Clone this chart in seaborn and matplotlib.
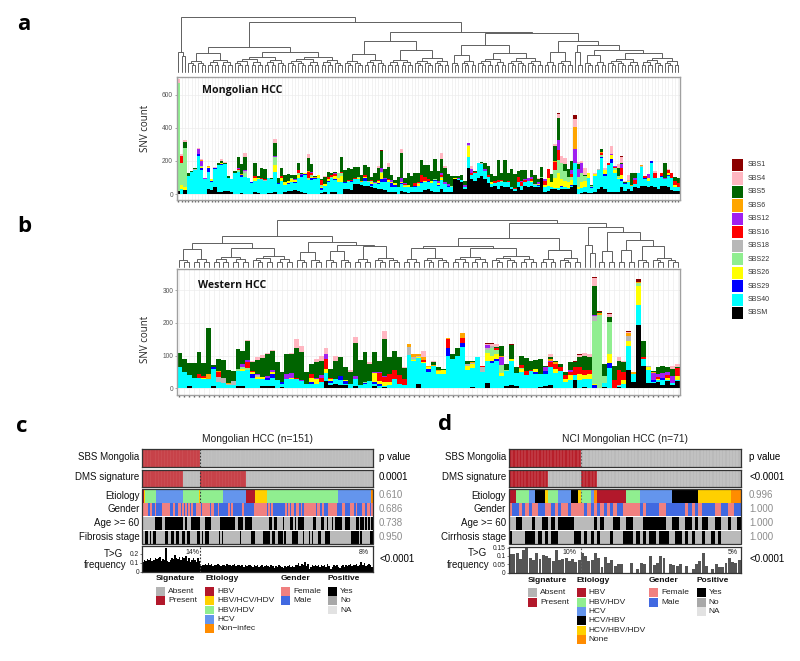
import numpy as np
import pandas as pd
import seaborn as sns
import matplotlib
matplotlib.use('Agg')
import matplotlib.pyplot as plt
from matplotlib.colors import ListedColormap
from matplotlib.patches import Rectangle

# ---------- signatures ----------
signatures = ['SBS1', 'SBS4', 'SBS5', 'SBS6', 'SBS12', 'SBS16', 'SBS18', 'SBS22', 'SBS26', 'SBS29', 'SBS40', 'SBSM']
sig_colors = ['#8b0000', '#ffb6c1', '#006400', '#ffa500', '#a020f0', '#ff0000', '#b8b8b8', '#90ee90', '#ffff00', '#0000ff', '#00ffff', '#000000']

# ---------- panel a, Mongolian HCC, 151 samples ----------
a_sbsm = [20,0,25,0,0,0,0,0,0,30,25,40,15,15,20,20,10,0,0,5,0,0,0,10,5,0,0,5,5,15,0,0,15,20,20,25,20,10,5,0,0,0,0,5,10,0,15,15,0,0,
          30,30,25,60,60,55,50,50,40,35,30,30,25,10,15,15,0,20,10,5,
          10,10,15,15,25,30,20,15,10,30,15,15,15,90,85,75,30,160,90,80,100,110,90,65,40,50,30,50,40,40,30,20,40,25,50,40,50,40,40,100,
          10,20,30,30,25,30,30,30,40,55,0,5,10,5,5,15,30,45,30,15,15,10,10,40,20,30,20,40,35,50,50,40,50,40,30,50,50,40,25,20,20]
a_sbs40 = [0,30,0,110,135,145,230,145,90,105,50,110,160,160,160,75,80,125,135,100,105,100,65,70,85,90,80,95,85,120,60,80,40,40,50,40,80,95,110,85,85,92,100,20,40,70,80,67,70,70,
           35,40,50,30,30,15,30,25,10,25,30,40,50,60,30,25,40,40,30,40,
           30,35,35,50,50,40,45,65,40,55,45,30,30,0,5,10,10,65,25,45,85,70,50,40,20,15,40,20,30,30,10,10,30,25,20,40,20,15,10,0,
           35,30,10,5,10,15,10,5,10,130,30,30,30,90,30,95,115,175,80,160,175,115,80,40,40,45,30,20,90,115,40,40,140,60,65,55,40,70,75,25,20]
a_sbs5 = [0,0,35,15,5,5,0,0,0,0,0,0,10,15,10,10,0,15,70,60,80,0,5,80,10,62,57,0,10,77,35,48,45,40,15,25,40,5,0,80,47,5,0,5,42,30,15,10,5,90,
          70,72,62,70,60,35,60,85,20,60,72,100,55,75,30,20,60,155,35,70,
          65,60,55,92,70,82,60,120,60,85,80,60,60,15,15,30,25,0,0,5,5,5,40,55,45,30,120,45,135,50,105,85,35,65,55,0,40,55,20,60,
          0,0,45,90,135,0,40,45,55,0,30,5,5,0,5,0,0,15,0,0,0,0,50,5,10,0,75,35,0,0,0,0,0,0,0,0,95,0,5,25,35]
a_sbs29 = {6:10,7:10,9:25,10:5,11:5,13:5,19:10,22:5,30:5,33:5,34:5,35:5,37:10,38:5,40:10,41:8,43:10,45:10,46:5,47:10,49:5,50:5,52:5,55:5,56:15,58:10,60:5,61:20,62:15,63:5,64:20,65:15,67:5,68:5,71:5,73:8,75:8,77:5,78:5,81:5,96:5,100:5,106:5,108:5,115:5,118:5,124:5,127:5,128:10,130:20,133:10,134:5,140:10,142:10,145:5,147:5}
a_sbs26 = {1:25,2:20,7:10,9:5,10:10,13:5,23:15,24:10,29:40,31:15,32:15,33:15,34:15,35:15,36:15,38:10,40:10,42:15,43:10,44:10,45:10,47:15,48:30,49:35,51:5,54:10,56:10,58:15,60:15,61:35,63:10,64:5,65:10,67:10,68:5,69:10,72:10,74:5,76:15,78:10,79:10,83:5,87:65,94:10,97:5,106:5,108:5,110:10,111:50,112:30,113:60,114:95,115:40,116:40,117:40,118:30,120:15,121:40,122:40,123:30,125:10,128:25,130:25,131:20,132:10,133:25,135:5,141:15,147:10,149:10}
a_sbs22 = {0:650,1:135,2:235,7:5,18:10,20:25,29:50,31:5,34:10,36:10,39:15,40:10,43:10,46:5,48:25,49:15,51:5,54:5,58:5,59:5,61:10,68:5,72:5,77:5,79:10,82:5,97:5,109:5,112:5,113:50,114:75,115:100,116:60,117:30,118:20,120:60,121:50,122:30,124:10,127:10,131:10,132:10}
a_sbs18 = {5:5,15:5,20:10,26:5,36:5,47:5,57:5,66:5,87:5,91:5,107:5,126:5,135:5,139:5}
a_sbs16 = {1:40,11:5,18:5,23:15,25:8,26:8,31:12,36:15,39:35,40:10,43:30,45:15,46:10,47:8,49:10,51:8,52:8,53:5,56:10,58:5,60:8,63:5,68:5,70:5,71:15,72:10,73:40,74:25,75:15,79:10,88:10,89:8,91:5,93:10,95:15,96:10,97:5,99:10,101:5,102:35,103:25,104:15,106:10,110:25,111:50,113:50,114:60,118:15,127:15,129:15,131:10,133:40,137:25,140:10,143:30,145:20,147:20,148:25,149:25,150:25}
a_sbs12 = {6:30,7:30,8:10,18:5,20:5,29:8,35:5,37:5,40:8,47:5,50:5,59:5,61:25,62:5,64:15,67:20,68:5,78:15,79:10,80:15,81:10,84:5,86:15,87:15,88:25,92:10,94:5,103:5,104:5,105:20,106:15,108:10,110:10,114:60,118:25,119:90,120:45,121:60,123:5,130:5,131:5,133:25,137:10,141:25,146:5}
a_sbs6 = {7:5,9:5,19:5,39:5,41:5,55:5,113:5,119:130,127:5,136:5,139:5,144:5}
a_sbs4 = {0:25,1:10,2:10,6:10,7:5,11:5,13:15,14:5,20:25,29:25,36:5,39:25,44:8,60:10,63:20,67:20,79:40,80:15,88:20,108:10,113:10,114:25,115:40,116:40,119:50,120:15,121:10,122:40,125:10,128:15,130:50,132:20,133:40,134:5,135:30,143:10,147:5}
a_sbs1 = {2:5,61:5,114:5,119:25,133:5}

# ---------- panel b, Western HCC, 103 samples ----------
b_sbsm = [0,0,8,0,0,0,0,8,0,0,0,0,8,8,0,0,0,8,8,8,0,3,0,0,0,2,2,0,0,0,22,10,15,12,10,0,8,0,0,0,8,0,3,0,0,0,0,
          0,0,13,0,0,0,0,0,0,0,0,0,0,3,0,0,18,0,0,0,8,10,8,0,0,2,0,5,8,12,0,0,0,0,25,0,5,0,0,0,3,0,0,3,0,55,20,195,70,18,18,20,12,22,12,22]
b_sbs40 = [65,50,34,33,32,28,30,51,20,18,10,12,45,46,55,32,30,22,17,25,25,12,30,30,30,22,13,15,15,20,25,8,15,15,5,15,20,12,15,22,7,8,3,10,30,15,10,
           102,84,79,79,50,69,44,43,100,90,100,128,55,58,95,50,66,78,83,37,44,75,39,50,40,50,45,40,36,55,48,52,20,25,15,25,25,30,0,0,15,64,0,5,15,74,25,59,20,37,3,5,15,5,5,3]
b_sbs5 = [43,40,36,45,66,40,140,5,37,55,37,30,62,40,59,28,42,58,66,60,57,29,60,57,92,83,35,31,49,41,0,27,55,58,39,35,102,76,89,53,63,36,111,50,60,55,32,
          0,0,0,0,0,10,8,5,0,15,25,0,10,3,0,0,0,0,3,30,20,42,18,27,40,28,30,45,3,5,5,8,10,25,17,32,45,40,87,3,37,15,45,28,30,0,0,0,50,0,3,22,24,15,23,5]
b_sbs29 = {7:8,15:12,18:8,19:12,21:6,27:5,31:5,33:10,34:8,38:3,40:6,41:6,51:10,55:25,58:12,64:6,65:6,73:5,75:8,85:12,88:15,97:5,99:4}
b_sbs26 = {5:5,13:5,15:5,16:5,17:5,19:5,23:3,27:12,28:15,30:13,31:5,34:3,40:25,41:10,42:15,43:10,48:3,49:5,50:3,51:5,53:10,54:12,59:15,60:15,63:25,64:15,65:15,66:10,68:5,70:8,73:8,77:12,79:8,80:15,82:20,83:10,84:15,85:3,88:25,91:10,92:15,94:60,96:10,98:5,100:5,102:12}
b_sbs22 = {12:5,13:8,14:8,38:3,48:3,63:10,64:25,65:15,66:25,67:3,70:3,85:190,86:225,87:20,88:100,94:8}
b_sbs18 = {8:15,9:15,10:5,11:10,16:5,47:25,48:5,49:3,59:5,60:3,62:15,63:5,64:5,85:15,90:2,92:15,96:5}
b_sbs16 = {4:12,5:5,8:15,14:18,15:5,24:3,27:12,29:12,30:30,31:5,41:22,42:15,43:25,44:25,45:25,46:20,50:5,58:15,55:25,62:5,65:5,70:10,71:12,72:5,76:15,77:15,78:15,79:12,80:10,81:25,82:20,83:15,84:10,89:25,90:45,91:25,95:5,98:5,100:8,102:25}
b_sbs12 = {13:8,14:5,16:5,18:5,19:5,22:15,23:15,25:3,28:3,29:10,30:15,36:10,40:3,41:3,42:3,63:10,66:25,75:15,76:3,80:5,85:5,97:20,98:8,99:15,100:10,101:20}
b_sbs6 = {6:15,8:3,10:3,47:8,48:10,49:5,50:8,51:5,52:3,53:3,55:5,58:15,60:3,66:3,76:5,77:5,86:5,92:10,93:5,94:3,97:5}
b_sbs4 = {14:3,15:3,16:8,17:10,18:3,19:3,23:3,24:25,25:20,28:8,29:15,30:20,32:15,35:5,36:18,39:5,42:25,46:3,50:20,52:3,63:3,64:8,65:8,76:10,82:5,83:8,84:10,85:25,88:8,90:12,91:5,92:3,101:10,102:8}
b_sbs1 = {63:3,64:3,68:3,81:3,82:3,85:3,86:3,88:3,92:3,94:10}

# ---------- clustering trees, (height, left, right), an int is a group of that many leaves ----------
a_tree = (1.0, (.36, 1, (.28, 1, 1)),
          (.90, (.45, (.345, 6, 8), (.35, 16, 17)),
           (.727, (.564, (.33, 6, 7), (.39, 8, 11)),
            (.70, (.485, (.30, 3, 5), (.345, 9, 11)),
             (.56, (.36, 4, 5), (.485, (.36, 1, 2), (.39, (.30, 3, 4), (.345, 10, 12))))))))
b_tree = (1.0, (.66, (.51, (.38, 3, 4), (.40, 8, 9)),
                (.54, (.33, 3, 3), (.47, (.35, 3, 3), (.44, 4, 6)))),
          (.94, (.63, (.44, (.40, 4, 6), (.40, 8, 10)), (.37, 4, 5)),
           (.86, (.47, 1, (.30, 1, 1)),
            (.75, (.35, 2, 2), (.58, (.37, 2, 2), (.45, 3, 6))))))

# ---------- panels c and d, annotation tracks ----------
etio_c_labels = ['HBV', 'HBV/HCV/HDV', 'HBV/HDV', 'HCV', 'Non\u2212infec']
etio_c_colors = ['#b2182b', '#ffd000', '#90ee90', '#6495ed', '#ff8c00']
etio_d_labels = ['HBV', 'HBV/HDV', 'HCV', 'HCV/HBV', 'HCV/HBV/HDV', 'None']
etio_d_colors = ['#b2182b', '#90ee90', '#6495ed', '#000000', '#ffd000', '#ff8c00']

c_sbs_runs = [38, 113]
c_dms_runs = [27, 11, 30, 83]
c_etio_codes = [0, 1, 2, 3, 2, 1, 2, 3, 0, 1, 2, 3, 4]
c_etio_counts = [1, 1, 7, 18, 10, 1, 15, 15, 6, 8, 46, 22, 1]
c_gender_runs = [4,1,1,2,1,4,5,2,1,2,2,1,1,1,1,1,1,1,1,2,3,1,5,1,2,2,1,6,1,1,1,6,1,7,8,1,1,1,1,8,1,1,1,1,2,1,2,1,1,1,8,1,2,1,1,3,6,3,2,3,3,1,1,3,2,1,2,1,1]
c_age_runs = [8,5,2,12,1,1,3,6,3,4,6,10,2,3,1,5,11,2,1,2,4,1,4,2,1,1,1,4,6,2,3,2,2,1,2,1,1,5,2,3,4,2,1,2,1,1,1,1,1,1]
c_fibrosis_runs = [2,2,1,1,1,2,6,2,2,2,1,2,2,2,1,2,5,2,1,1,1,3,6,1,1,1,11,1,6,3,5,5,1,2,2,3,1,1,4,4,3,1,3,1,1,1,3,2,3,3,14,5,1,1,5,2]
c_tg = [.11,.13,.12,.14,.13,.15,.12,.13,.16,.14,.15,.17,.12,.14,.13,.27,.12,.11,.13,.15,.14,.19,.16,.14,.17,.13,.17,.15,.18,.12,.15,.11,.13,.16,.13,.11,.15,.12,
        .06,.08,.07,.09,.08,.10,.07,.09,.06,.08,.07,.09,.08,.06,.07,.08,.06,.09,.07,.08,.06,.07,.09,.06,.08,.07,.06,.08,.05,.07,
        .06,.08,.07,.06,.05,.07,.06,.08,.05,.06,.07,.05,.06,.08,.06,.05,.07,.06,.04,.06,.05,.07,.06,.05,.04,.06,.05,.06,.07,.05,
        .06,.05,.08,.07,.10,.06,.09,.07,.11,.06,.09,.03,.05,.07,.06,.08,.06,.07,.05,.08,.06,.07,.05,.09,.06,.03,.05,.07,.06,.08,
        .05,.04,.06,.07,.05,.08,.06,.07,.09,.06,.08,.07,.09,.06,.08,.11,.07,.10,.06,.08,.09,.07,.05]
c_tg_ticks = [0, 0.1, 0.2]
c_tg_labels = ['0', '0.1', '0.2']

d_sbs_runs = [22, 49]
d_dms_runs = [12, 10, 5, 44]
d_etio_codes = [0, 1, 2, 3, 4, 1, 2, 3, 4, 1, 2, 5, 0, 1, 2, 3, 4, 5]
d_etio_counts = [2, 4, 2, 3, 1, 3, 4, 2, 1, 3, 1, 1, 9, 4, 10, 8, 10, 3]
d_gender_runs = [1,2,1,1,1,1,2,2,2,1,1,1,2,1,4,1,1,1,1,1,1,1,1,1,1,2,5,1,1,4,2,6,1,1,1,1,1,4,2,2,2,2]
d_age_runs = [2,2,3,1,2,2,1,1,1,5,6,1,1,1,3,2,2,2,3,7,2,2,2,2,1,1,1,2,2,2,2,1,2,1]
d_cirrhosis_runs = [0,1,4,3,1,1,1,1,1,2,5,2,1,1,1,1,1,1,3,1,3,3,1,1,1,1,1,2,1,3,2,2,1,1,1,1,2,1,2,1,1,1,6]
d_tg = [.11,.11,.115,.08,.135,.145,.09,.075,.115,.08,.105,.1,.09,.07,.135,.075,.08,.09,.07,.08,.065,.075,.115,.1,.07,.075,.12,.085,.035,.095,.055,.075,.04,.05,.05,
        0,0,.06,0,.02,.055,.05,0,.1,.045,.055,.1,.085,0,.05,.045,.04,.05,0,.04,0,.02,.05,.07,.12,.04,0,.02,.05,.035,.035,.06,.085,.065,.055,.075]
d_tg_ticks = [0, 0.05, 0.1, 0.15]
d_tg_labels = ['0', '0.05', '0.1', '0.15']

GREY = '#bababa'
PINK, BLUE = '#f08080', '#4169e1'

sns.set_theme(style='white')
plt.rcParams['font.family'] = ['Liberation Sans', 'DejaVu Sans']
W, H = 800, 661
fig = plt.figure(figsize=(W / 100, H / 100), dpi=100)


def add_ax(left, top, right, bottom):
    return fig.add_axes([left / W, 1 - bottom / H, (right - left) / W, (bottom - top) / H])


def full_column(values, n):
    col = np.zeros(n)
    if isinstance(values, dict):
        for k, v in values.items():
            col[k] = v
    else:
        col[:] = values
    return col


def draw_bars(ax, columns, n, ylim, yticks):
    rows = []
    for name, values in zip(signatures, columns):
        rows.append(pd.DataFrame({'sample': np.arange(n), 'signature': name, 'count': full_column(values, n)}))
    df = pd.concat(rows)
    ax.grid(True, color='#ededed', lw=0.5)
    ax.set_axisbelow(True)
    sns.histplot(df, x='sample', weights='count', hue='signature', hue_order=signatures, palette=sig_colors,
                 multiple='stack', discrete=True, shrink=1, linewidth=0, alpha=1, legend=False, ax=ax)
    ax.set_xlim(-0.5, n - 0.5)
    ax.set_ylim(*ylim)
    ax.set_yticks(yticks)
    ax.set_xticks(np.arange(n))
    ax.set_xlabel('')
    ax.set_ylabel('')
    ax.set_xticklabels([])
    ax.tick_params(axis='x', length=1.2, width=1.0, color='#666666', pad=0, bottom=True)
    ax.tick_params(axis='y', length=1.5, width=0.4, color='#666666', labelsize=4.8, labelcolor='#555555', pad=1, left=True)
    for s in ax.spines.values():
        s.set_color('#a0a0a0')
        s.set_linewidth(1.0)


def draw_tree(ax, node, start=0):
    # returns x position, height and number of leaves of the node
    if isinstance(node, int):
        if node == 1:
            return start, 0.0, 1
        k = max(1, node * 3 // 5)
        node = (0.07 + 0.05 * np.log2(node), k, node - k)
    h, left, right = node
    xl, hl, nl = draw_tree(ax, left, start)
    xr, hr, nr = draw_tree(ax, right, start + nl)
    ax.plot([xl, xl, xr, xr], [hl, h, h, hr], color='#606060', lw=0.7, solid_joinstyle='miter')
    return (xl + xr) / 2, h, nl + nr


def expand(runs, first=1, second=0):
    codes = [first if i % 2 == 0 else second for i in range(len(runs))]
    return np.repeat(codes, runs)


def track(box, codes, colors, stripes=0, frame=True):
    ax = add_ax(*box)
    n_col = len(colors)
    sns.heatmap(np.asarray(codes).reshape(1, -1), cmap=ListedColormap(colors), vmin=-0.5, vmax=n_col - 0.5, cbar=False,
                xticklabels=False, yticklabels=False, ax=ax)
    if stripes:
        # thin pale lines between the samples
        ax.vlines(np.arange(1, len(codes)), 0, 1, color='white', lw=0.35, alpha=stripes)
    if frame:
        for s in ax.spines.values():
            s.set_visible(True)
            s.set_color('#333333')
            s.set_linewidth(0.9)
    return ax


def tg_axis(box, values, ylim, ticks, labels, color):
    ax = add_ax(*box)
    n = len(values)
    sns.barplot(x=np.arange(n), y=values, color=color, width=0.9 if n < 100 else 1.0, saturation=1, linewidth=0, ax=ax)
    ax.set_xlim(-0.5, n - 0.5)
    ax.set_ylim(*ylim)
    ax.set_xticks([])
    ax.set_yticks(ticks)
    ax.set_yticklabels(labels)
    ax.set_ylabel('')
    ax.tick_params(axis='y', length=1.5, width=0.4, labelsize=4.8, pad=0.8, left=True, colors='#222222')
    for s in ax.spines.values():
        s.set_visible(True)
        s.set_color('#333333')
        s.set_linewidth(0.9)
    return ax


def lower_panel(left, right, runs, tg_box, tg, ylim, ticks, ticklabels, tg_color, etio, etio_colors, split, split_color, red, stripes):
    sbs_runs, dms_runs, gender_runs, age_runs, fourth_runs = runs
    a1 = track((left, 449, right, 466.5), expand(sbs_runs), [GREY, red], stripes)
    a2 = track((left, 469.5, right, 486.5), expand(dms_runs), [GREY, red], stripes)
    a3 = track((left, 488.8, right, 502.8), etio, etio_colors, frame=False)
    a4 = track((left, 502.8, right, 516.2), expand(gender_runs), [BLUE, PINK], frame=False)
    a5 = track((left, 516.6, right, 530.2), expand(age_runs, 0, 1), [GREY, 'black'], frame=False)
    a6 = track((left, 530.6, right, 544), expand(fourth_runs, 0, 1), [GREY, 'black'], frame=False)
    a7 = tg_axis(tg_box, tg, ylim, ticks, ticklabels, tg_color)
    for ax in (a1, a2, a3, a7):
        ax.axvline(split if ax is not a7 else split - 0.5, color=split_color, lw=0.8, ls=(0, (1.5, 1.5)))
    return a7


# ---------- bars ----------
ax_a = add_ax(176.5, 76.7, 680, 200)
draw_bars(ax_a, [a_sbs1, a_sbs4, a_sbs5, a_sbs6, a_sbs12, a_sbs16, a_sbs18, a_sbs22, a_sbs26, a_sbs29, a_sbs40, a_sbsm],
          151, (-36, 710), [0, 200, 400, 600])
ax_b = add_ax(177, 269, 680, 395)
draw_bars(ax_b, [b_sbs1, b_sbs4, b_sbs5, b_sbs6, b_sbs12, b_sbs16, b_sbs18, b_sbs22, b_sbs26, b_sbs29, b_sbs40, b_sbsm],
          103, (-20, 365), [0, 100, 200, 300])

# ---------- dendrograms ----------
tree_a = add_ax(176.5, 16.7, 680, 71.7)
draw_tree(tree_a, a_tree)
tree_a.set_xlim(-0.5, 150.5)
tree_b = add_ax(177, 220, 680, 267.3)
draw_tree(tree_b, b_tree)
tree_b.set_xlim(-0.5, 102.5)
for t in (tree_a, tree_b):
    t.set_ylim(0, 1)
    t.axis('off')
    for l in t.lines:
        l.set_clip_on(False)

# ---------- panels c and d ----------
c_etio = np.repeat(c_etio_codes, c_etio_counts)
d_etio = np.repeat(d_etio_codes, d_etio_counts)
lower_panel(142.3, 372.7, (c_sbs_runs, c_dms_runs, c_gender_runs, c_age_runs, c_fibrosis_runs),
            (142.3, 546, 372.7, 571.7), c_tg, (0, 0.29), c_tg_ticks, c_tg_labels, 'black',
            c_etio, etio_c_colors, 38, '#3a3a3a', '#c4383f', 0.22)
lower_panel(509, 740.7, (d_sbs_runs, d_dms_runs, d_gender_runs, d_age_runs, d_cirrhosis_runs),
            (509, 546.5, 740.7, 572.5), d_tg, (0, 0.156), d_tg_ticks, d_tg_labels, '#555555',
            d_etio, etio_d_colors, 22, '#666666', '#b81f2a', 0.45)

# ---------- text layer in pixel coordinates ----------
top = fig.add_axes([0, 0, 1, 1], facecolor='none')
top.set_xlim(0, W)
top.set_ylim(H, 0)
top.axis('off')
top.add_patch(Rectangle((142.3, 488.8), 230.4, 55.2, fill=False, ec='#333333', lw=0.9))
top.add_patch(Rectangle((509, 488.8), 231.7, 55.2, fill=False, ec='#333333', lw=0.9))

for letter, x, y in [('a', 24, 24), ('b', 24, 226), ('c', 22, 427), ('d', 445, 425)]:
    top.text(x, y, letter, fontsize=16, fontweight='bold', family='Open Sans', ha='center', va='center', color='black')

top.text(146, 128, 'SNV count', rotation=90, fontsize=7, family='Open Sans', ha='center', va='center', color='#222222')
top.text(146, 339, 'SNV count', rotation=90, fontsize=7, family='Open Sans', ha='center', va='center', color='#222222')
top.text(202, 91, 'Mongolian HCC', fontsize=7.6, fontweight='bold', family='Open Sans', va='center', color='#111111')
top.text(198, 285, 'Western HCC', fontsize=7.6, fontweight='bold', family='Open Sans', va='center', color='#111111')

# signature legend
for i, (name, col) in enumerate(zip(signatures, sig_colors)):
    y = 159 + i * 13.45
    top.add_patch(Rectangle((732, y), 11, 12.2, fc=col, ec='none'))
    top.text(748, y + 6, name, fontsize=5, va='center', color='#333333')

# row labels and p values
row_y = [457.5, 477.5, 496, 509.5, 523, 537]
c_rows = ['SBS Mongolia', 'DMS signature', 'Etiology', 'Gender', 'Age >= 60', 'Fibrosis stage']
d_rows = ['SBS Mongolia', 'DMS signature', 'Etiology', 'Gender', 'Age >= 60', 'Cirrhosis stage']
c_pvals = ['p value', '0.0001', '0.610', '0.686', '0.738', '0.950']
d_pvals = ['p value', '<0.0001', '0.996', '1.000', '1.000', '1.000']
for y, lc, ld, pc, pd_ in zip(row_y, c_rows, d_rows, c_pvals, d_pvals):
    top.text(139.5, y, lc, fontsize=7, ha='right', va='center', color='#111111')
    top.text(506, y, ld, fontsize=7, ha='right', va='center', color='#111111')
    pcol = 'black' if y < 480 else '#8c8c8c'
    top.text(379, y - 0.5, pc, fontsize=7, va='center', color=pcol)
    top.text(749, y - 0.5, pd_, fontsize=7, va='center', color=pcol)
top.text(379, 558.5, '<0.0001', fontsize=7, va='center', color='black')
top.text(749, 558.5, '<0.0001', fontsize=7, va='center', color='black')
top.text(257, 439, 'Mongolian HCC (n=151)', fontsize=7.4, ha='center', va='center', color='#222222')
top.text(625, 439, 'NCI Mongolian HCC (n=71)', fontsize=7.4, ha='center', va='center', color='#222222')
top.text(113, 554, 'T>G', fontsize=7, ha='center', va='center', color='#111111')
top.text(105, 565, 'frequency', fontsize=7, ha='center', va='center', color='#111111')
top.text(477, 553.5, 'T>G', fontsize=7, ha='center', va='center', color='#111111')
top.text(468, 565, 'frequency', fontsize=7, ha='center', va='center', color='#111111')
for x, y, s in [(192, 552, '14%'), (364, 552, '8%'), (569, 552.5, '10%'), (733, 552.5, '5%')]:
    top.text(x, y, s, fontsize=5, ha='center', va='center', color='#222222')


def legend_block(x, y0, title, labels, colors, step=9.35):
    top.text(x, y0, title, fontsize=6, fontweight='bold', va='center', color='#111111')
    for i, (lab, col) in enumerate(zip(labels, colors)):
        y = y0 + 12.3 + i * step
        top.add_patch(Rectangle((x, y - 4.4), 9, 8.8, fc=col, ec='none'))
        top.text(x + 12, y, lab, fontsize=6, va='center', color='#222222')


sig_lab, sig_col = ['Absent', 'Present'], ['#b4b4b4', '#b2182b']
gen_lab, gen_col = ['Female', 'Male'], [PINK, BLUE]
pos_lab, pos_col = ['Yes', 'No', 'NA'], ['black', '#a8a8a8', '#e2e2e2']
legend_block(156, 579, 'Signature', sig_lab, sig_col)
legend_block(205, 579, 'Etiology', etio_c_labels, etio_c_colors)
legend_block(281, 579, 'Gender', gen_lab, gen_col)
legend_block(328, 579, 'Positive', pos_lab, pos_col)
legend_block(528, 580.5, 'Signature', sig_lab, sig_col)
legend_block(576.7, 580.5, 'Etiology', etio_d_labels, etio_d_colors)
legend_block(649, 580.5, 'Gender', gen_lab, gen_col)
legend_block(696.7, 580.5, 'Positive', pos_lab, pos_col)

fig.savefig('out.png', dpi=100, facecolor='white')
